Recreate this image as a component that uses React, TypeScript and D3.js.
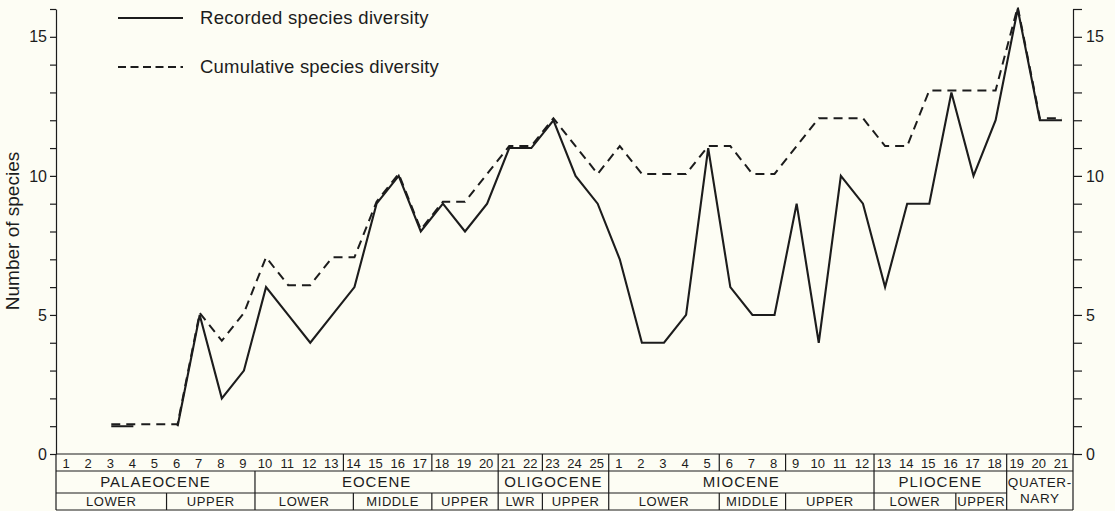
import React, { useEffect, useRef } from "react";
import * as d3 from "d3";

// column numbers along the bottom (two numbering runs)
const columnLabels = [
  1, 2, 3, 4, 5, 6, 7, 8, 9, 10, 11, 12, 13, 14, 15, 16, 17, 18, 19, 20, 21, 22, 23, 24, 25,
  1, 2, 3, 4, 5, 6, 7, 8, 9, 10, 11, 12, 13, 14, 15, 16, 17, 18, 19, 20, 21,
];

const recorded = [
  null, null, 1, 1, null, 1, 5, 2, 3, 6, 5, 4, 5, 6, 9, 10, 8, 9, 8, 9, 11, 11, 12, 10, 9,
  7, 4, 4, 5, 11, 6, 5, 5, 9, 4, 10, 9, 6, 9, 9, 13, 10, 12, 16, 12, 12,
];

const cumulative = [
  null, null, 1, 1, 1, 1, 5, 4, 5, 7, 6, 6, 7, 7, 9, 10, 8, 9, 9, 10, 11, 11, 12, 11, 10,
  11, 10, 10, 10, 11, 11, 10, 10, 11, 12, 12, 12, 11, 11, 13, 13, 13, 13, 16, 12, 12,
];

// epochs: column spans
const epochs = [
  { name: ["PALAEOCENE"], from: 0, to: 9 },
  { name: ["EOCENE"], from: 9, to: 20 },
  { name: ["OLIGOCENE"], from: 20, to: 25 },
  { name: ["MIOCENE"], from: 25, to: 37 },
  { name: ["PLIOCENE"], from: 37, to: 43 },
  { name: ["QUATER-", "NARY"], from: 43, to: 46, full: true },
];

const stages = [
  { name: "LOWER", from: 0, to: 5 },
  { name: "UPPER", from: 5, to: 9 },
  { name: "LOWER", from: 9, to: 13.45 },
  { name: "MIDDLE", from: 13.45, to: 17 },
  { name: "UPPER", from: 17, to: 20 },
  { name: "LWR", from: 20, to: 22 },
  { name: "UPPER", from: 22, to: 25 },
  { name: "LOWER", from: 25, to: 30 },
  { name: "MIDDLE", from: 30, to: 33 },
  { name: "UPPER", from: 33, to: 37 },
  { name: "LOWER", from: 37, to: 40.7 },
  { name: "UPPER", from: 40.7, to: 43 },
];

// breaks drawn in the number row
const numberRowBreaks = [13, 17, 20, 22, 25, 30, 33, 37, 43];

const yTicks = d3.range(0, 17);

const W = 1115, H = 511;
const left = 56, right = 1073;
const top = 9, base = 454;
const row1 = 471, row2 = 493, row3 = 510;
const ink = "#1c1c1c";
const font = "'Liberation Sans', Arial, Helvetica, sans-serif";

export default function App() {
  const leftRef = useRef<SVGGElement>(null);
  const rightRef = useRef<SVGGElement>(null);

  const x = d3.scaleLinear().domain([0, columnLabels.length]).range([left, right]);
  const y = d3.scaleLinear().domain([0, 16]).range([base, top]);

  const line = d3.line<number | null>()
    .defined(d => d != null)
    .x((d, i) => x(i + 0.5))
    .y(d => y(d as number));

  useEffect(() => {
    const fmt = (d: any) => (d % 5 === 0 ? String(d) : "");
    const gl = d3.select(leftRef.current);
    gl.selectAll("*").remove();
    gl.call(d3.axisLeft(y).tickValues(yTicks).tickSize(6).tickSizeOuter(0).tickPadding(3).tickFormat(fmt));
    const gr = d3.select(rightRef.current);
    gr.selectAll("*").remove();
    gr.call(d3.axisRight(y).tickValues(yTicks).tickSize(9).tickSizeOuter(0).tickPadding(4).tickFormat(fmt));
    [gl, gr].forEach(g => {
      g.selectAll("path, line").attr("stroke", ink).attr("stroke-width", 1.2);
      g.selectAll("text").attr("font-size", 16).attr("font-family", font).attr("fill", ink);
    });
  }, []);

  return (
    <svg width={W} height={H} style={{ position: "absolute", left: 0, top: 0 }}>
      <rect width={W} height={H} fill="#fdfdf4" />
      <g ref={leftRef} transform={`translate(${left},0)`} />
      <g ref={rightRef} transform={`translate(${right},0)`} />

      <text transform={`translate(19,231) rotate(-90)`} textAnchor="middle"
        fontSize={19} fontFamily={font} fill={ink}>Number of species</text>

      {/* legend */}
      <line x1={118} x2={183} y1={18} y2={18} stroke={ink} strokeWidth={2} />
      <text x={200} y={18} dy="0.35em" fontSize={18.5} letterSpacing={0.3} fontFamily={font} fill={ink}>Recorded species diversity</text>
      <line x1={118} x2={183} y1={67} y2={67} stroke={ink} strokeWidth={2} strokeDasharray="8,4.5" />
      <text x={200} y={67} dy="0.35em" fontSize={18.5} letterSpacing={0.2} fontFamily={font} fill={ink}>Cumulative species diversity</text>

      {/* series */}
      <path d={line(cumulative) || ""} transform="translate(0,-2)" fill="none" stroke={ink}
        strokeWidth={2} strokeDasharray="9,6" />
      <path d={line(recorded) || ""} fill="none" stroke={ink} strokeWidth={2.1} />

      {/* stratigraphic table */}
      <g stroke={ink} strokeWidth={1.2} fill="none">
        <line x1={left} x2={right} y1={base} y2={base} />
        <line x1={left} x2={right} y1={row1} y2={row1} />
        <line x1={left} x2={x(43)} y1={row2} y2={row2} />
        <line x1={left} x2={right} y1={row3} y2={row3} />
        <line x1={left} x2={left} y1={base} y2={row3} />
        <line x1={right} x2={right} y1={base} y2={row3} />
        {numberRowBreaks.map(b => <line key={"n" + b} x1={x(b)} x2={x(b)} y1={base} y2={row1} />)}
        {epochs.slice(1).map(e => <line key={"e" + e.from} x1={x(e.from)} x2={x(e.from)} y1={row1} y2={e.full ? row3 : row2} />)}
        {stages.slice(1).map(s => <line key={"s" + s.from} x1={x(s.from)} x2={x(s.from)} y1={row2} y2={row3} />)}
      </g>
      <g fontFamily={font} fill={ink} textAnchor="middle">
        {columnLabels.map((c, i) => (
          <text key={"c" + i} x={x(i + 0.5) - 1} y={(base + row1) / 2 + 0.5} dy="0.36em" fontSize={13}>{c}</text>
        ))}
        {epochs.map(e => e.name.length === 1 ? (
          <text key={"et" + e.from} x={x((e.from + e.to) / 2)} y={(row1 + row2) / 2} dy="0.36em"
            fontSize={15} letterSpacing={1}>{e.name[0]}</text>
        ) : (
          <text key={"et" + e.from} x={x((e.from + e.to) / 2)} fontSize={13.5} letterSpacing={0.6}>
            {e.name.map((n, j) => <tspan key={j} x={x((e.from + e.to) / 2)} y={482 + j * 16} dy="0.36em">{n}</tspan>)}
          </text>
        ))}
        {stages.map(s => (
          <text key={"st" + s.from} x={x((s.from + s.to) / 2)} y={(row2 + row3) / 2} dy="0.36em"
            fontSize={13} letterSpacing={0.6}>{s.name}</text>
        ))}
      </g>
    </svg>
  );
}
